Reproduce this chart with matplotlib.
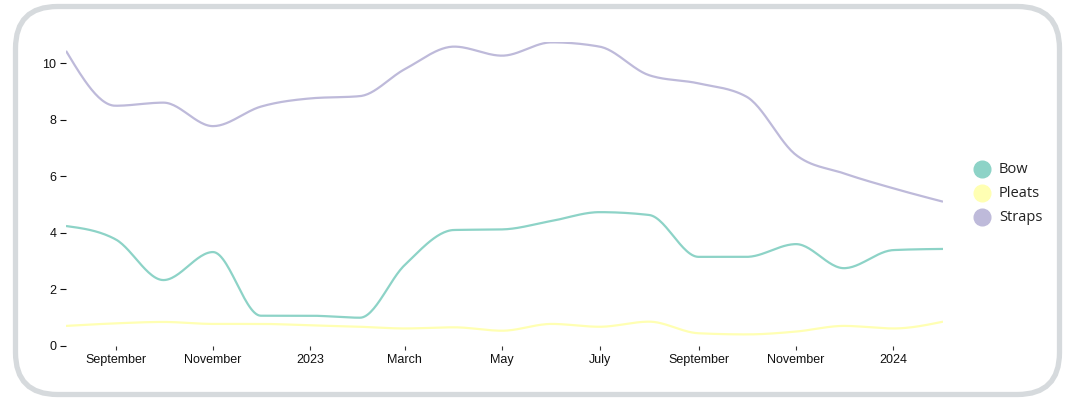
import numpy as np
import matplotlib
matplotlib.use("Agg")
import matplotlib.pyplot as plt
import matplotlib.dates as mdates
from matplotlib.patches import FancyBboxPatch
from matplotlib.lines import Line2D
import datetime as dt

# monthly values, Aug 2022 .. Feb 2024
months = [dt.date(2022, m, 1) for m in range(8, 13)] + \
         [dt.date(2023, m, 1) for m in range(1, 13)] + \
         [dt.date(2024, m, 1) for m in range(1, 3)]
bow = [4.24, 3.77, 2.33, 3.32, 1.07, 1.07, 1.0, 2.86, 4.10, 4.12,
       4.42, 4.73, 4.63, 3.15, 3.15, 3.60, 2.75, 3.39, 3.43]
pleats = [0.71, 0.80, 0.85, 0.78, 0.78, 0.73, 0.68, 0.62, 0.66, 0.54,
          0.78, 0.68, 0.86, 0.45, 0.41, 0.51, 0.71, 0.62, 0.86]
straps = [10.43, 8.49, 8.60, 7.77, 8.46, 8.75, 8.83, 9.78, 10.58, 10.26,
          10.73, 10.58, 9.57, 9.28, 8.81, 6.75, 6.10, 5.57, 5.10]
names = ["Bow", "Pleats", "Straps"]
colors = ["#8dd3c7", "#ffffb3", "#bebada"]

tick_dates = [dt.date(2022, 9, 1), dt.date(2022, 11, 1), dt.date(2023, 1, 1),
              dt.date(2023, 3, 1), dt.date(2023, 5, 1), dt.date(2023, 7, 1),
              dt.date(2023, 9, 1), dt.date(2023, 11, 1), dt.date(2024, 1, 1)]
tick_labels = ["September", "November", "2023", "March", "May", "July",
               "September", "November", "2024"]


def monotone_x(x, y, n=30):
    # same idea as d3.curveMonotoneX
    x = np.asarray(x, float)
    y = np.asarray(y, float)
    k = len(x)
    h = np.diff(x)
    s = np.diff(y) / h
    t = np.zeros(k)
    for i in range(1, k - 1):
        p = (s[i - 1] * h[i] + s[i] * h[i - 1]) / (h[i - 1] + h[i])
        t[i] = (np.sign(s[i - 1]) + np.sign(s[i])) * min(abs(s[i - 1]), abs(s[i]), 0.5 * abs(p))
    t[0] = (3 * s[0] - t[1]) / 2
    t[-1] = (3 * s[-1] - t[-2]) / 2
    xs, ys = [], []
    u = np.linspace(0, 1, n)
    for i in range(k - 1):
        dx = h[i] / 3
        px = [x[i], x[i] + dx, x[i + 1] - dx, x[i + 1]]
        py = [y[i], y[i] + dx * t[i], y[i + 1] - dx * t[i + 1], y[i + 1]]
        b = [(1 - u) ** 3, 3 * u * (1 - u) ** 2, 3 * u ** 2 * (1 - u), u ** 3]
        xs.append(sum(bi * pi for bi, pi in zip(b, px)))
        ys.append(sum(bi * pi for bi, pi in zip(b, py)))
    return np.concatenate(xs), np.concatenate(ys)


W, H = 1065, 401
fig = plt.figure(figsize=(W / 100, H / 100), dpi=100)

# rounded frame
frame = FancyBboxPatch((15.5 / 100, 6.5 / 100), 1044 / 100, 388 / 100,
                       boxstyle="round,pad=0,rounding_size=0.42",
                       transform=fig.dpi_scale_trans, linewidth=3.8,
                       edgecolor="#d6dadd", facecolor="white", zorder=-1)
fig.patches.append(frame)

ax = fig.add_axes([66 / W, (H - 346) / H, (943 - 66) / W, (346 - 41.8) / H])
ax.patch.set_alpha(0)

xnum = mdates.date2num(months)
for vals, c in zip([bow, pleats, straps], colors):
    sx, sy = monotone_x(xnum, vals)
    ax.plot(sx, sy, color=c, lw=1.6, solid_capstyle="butt")

ax.set_xlim(xnum[0], xnum[-1])
ax.set_ylim(0, 10.75)
for sp in ax.spines.values():
    sp.set_visible(False)

ax.set_xticks(mdates.date2num(tick_dates))
ax.set_xticklabels(tick_labels)
ax.set_yticks([0, 2, 4, 6, 8, 10])
ax.tick_params(axis="x", length=3, width=0.8, pad=3, labelsize=9,
               color="#333333", labelcolor="#111111")
ax.tick_params(axis="y", length=4, width=0.8, pad=3, labelsize=9,
               color="#111111", labelcolor="#111111")
for lab in ax.get_xticklabels() + ax.get_yticklabels():
    lab.set_fontfamily(["Liberation Sans", "DejaVu Sans"])

# legend
for i, (nm, c) in enumerate(zip(names, colors)):
    yy = (H - (169.3 + 24 * i)) / H
    fig.add_artist(Line2D([981.7 / W], [yy], marker="o", markersize=12,
                          markerfacecolor=c, markeredgecolor=c,
                          transform=fig.transFigure))
    fig.text(999 / W, yy, nm, fontsize=10.5, family="Open Sans",
             color="#222222", va="center", ha="left")

fig.savefig("out.png", dpi=100)
